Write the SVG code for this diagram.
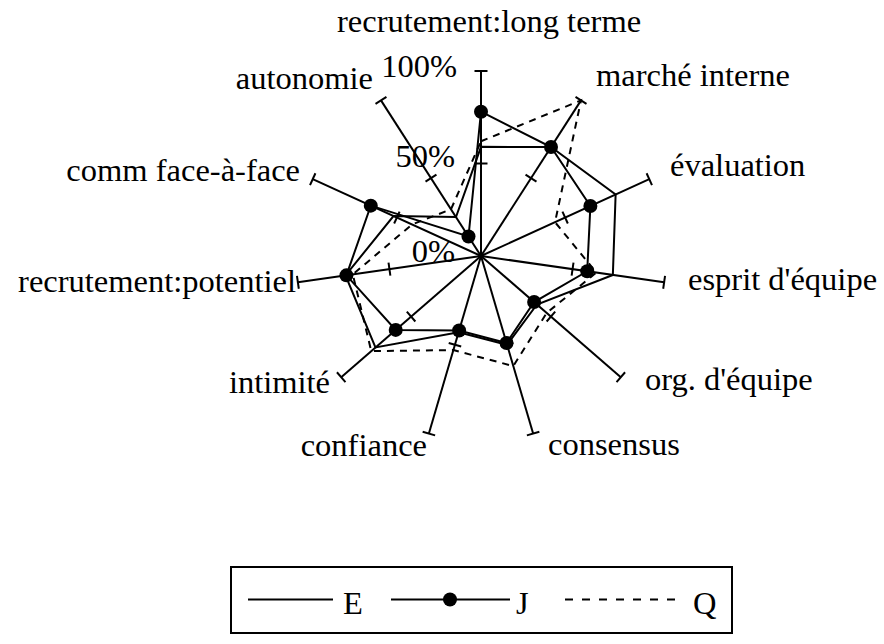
<svg xmlns="http://www.w3.org/2000/svg" width="884" height="644" viewBox="0 0 884 644">
<style>
  text { font-family: "Liberation Serif", "Times New Roman", serif; font-size: 32.5px; fill: #000; }
  .ax { stroke: #000; stroke-width: 2; fill: none; }
  .tk { stroke: #000; stroke-width: 2; fill: none; }
  .sE { stroke: #000; stroke-width: 2; fill: none; stroke-linejoin: miter; }
  .sJ { stroke: #000; stroke-width: 2; fill: none; }
  .sQ { stroke: #000; stroke-width: 2; fill: none; stroke-dasharray: 7 6; }
  .mk { fill: #000; stroke: none; }
  .end { text-anchor: end; }
</style>
<rect width="884" height="644" fill="#fff"/>

<g id="axis-recrutement-long-terme">
  <line class="ax" x1="481" y1="256" x2="481" y2="71"/>
  <line class="tk" x1="474.5" y1="71" x2="487.5" y2="71"/>
  <line class="tk" x1="474.5" y1="163.5" x2="487.5" y2="163.5"/>
  <text x="337" y="32">recrutement:long terme</text>
</g>
<g id="axis-marche-interne">
  <line class="ax" x1="481" y1="256" x2="581.02" y2="100.37"/>
  <line class="tk" x1="575.55" y1="96.86" x2="586.49" y2="103.88"/>
  <line class="tk" x1="525.54" y1="174.67" x2="536.48" y2="181.69"/>
  <text x="596" y="86">marché interne</text>
</g>
<g id="axis-evaluation">
  <line class="ax" x1="481" y1="256" x2="649.28" y2="179.15"/>
  <line class="tk" x1="646.58" y1="173.24" x2="651.98" y2="185.06"/>
  <line class="tk" x1="562.44" y1="211.66" x2="567.84" y2="223.48"/>
  <text x="670" y="176">évaluation</text>
</g>
<g id="axis-esprit-equipe">
  <line class="ax" x1="481" y1="256" x2="664.12" y2="282.33"/>
  <line class="tk" x1="665.05" y1="275.90" x2="663.20" y2="288.76"/>
  <line class="tk" x1="573.49" y1="262.73" x2="571.64" y2="275.59"/>
  <text x="688" y="290">esprit d'équipe</text>
</g>
<g id="axis-org-equipe">
  <line class="ax" x1="481" y1="256" x2="620.81" y2="377.15"/>
  <line class="tk" x1="625.07" y1="372.24" x2="616.55" y2="382.06"/>
  <line class="tk" x1="555.17" y1="311.66" x2="546.65" y2="321.48"/>
  <text x="645" y="390">org. d'équipe</text>
</g>
<g id="axis-consensus">
  <line class="ax" x1="481" y1="256" x2="533.12" y2="433.51"/>
  <line class="tk" x1="539.36" y1="431.68" x2="526.88" y2="435.34"/>
  <line class="tk" x1="513.30" y1="342.92" x2="500.82" y2="346.58"/>
  <text x="548" y="455">consensus</text>
</g>
<g id="axis-confiance">
  <line class="ax" x1="481" y1="256" x2="428.88" y2="433.51"/>
  <line class="tk" x1="435.12" y1="435.34" x2="422.64" y2="431.68"/>
  <line class="tk" x1="461.18" y1="346.58" x2="448.70" y2="342.92"/>
  <text class="end" x="427" y="456">confiance</text>
</g>
<g id="axis-intimite">
  <line class="ax" x1="481" y1="256" x2="341.19" y2="377.15"/>
  <line class="tk" x1="345.45" y1="382.06" x2="336.93" y2="372.24"/>
  <line class="tk" x1="415.35" y1="321.48" x2="406.83" y2="311.66"/>
  <text class="end" x="330" y="393">intimité</text>
</g>
<g id="axis-recrutement-potentiel">
  <line class="ax" x1="481" y1="256" x2="297.88" y2="282.33"/>
  <line class="tk" x1="298.81" y1="288.76" x2="296.96" y2="275.90"/>
  <line class="tk" x1="390.37" y1="275.59" x2="388.52" y2="262.73"/>
  <text class="end" x="296" y="292">recrutement:potentiel</text>
</g>
<g id="axis-comm-face-a-face">
  <line class="ax" x1="481" y1="256" x2="312.72" y2="179.15"/>
  <line class="tk" x1="310.02" y1="185.06" x2="315.42" y2="173.24"/>
  <line class="tk" x1="394.16" y1="223.48" x2="399.56" y2="211.66"/>
  <text class="end" x="300" y="181">comm face-à-face</text>
</g>
<g id="axis-autonomie">
  <line class="ax" x1="481" y1="256" x2="380.98" y2="100.37"/>
  <line class="tk" x1="375.51" y1="103.88" x2="386.45" y2="96.86"/>
  <line class="tk" x1="425.52" y1="181.69" x2="436.46" y2="174.67"/>
  <text class="end" x="373" y="89">autonomie</text>
</g>

<g id="scale-labels">
  <text class="end" x="457" y="77">100%</text>
  <text class="end" x="455" y="167">50%</text>
  <text class="end" x="455" y="262">0%</text>
</g>

<g id="connectors">
  <polygon id="series-E" class="sE" points="481,146.85 551.01,147.06 615.62,194.52 612.85,274.96 536.92,304.46 507.06,344.76 458.59,332.33 375.44,347.47 345.49,275.48 393.49,216.04 455.99,217.09"/>
  <polygon id="series-Q" class="sQ" points="481,141.3 581.02,100.37 555.04,222.19 596.37,272.59 546.71,312.94 513.31,366.06 453.38,350.08 371.25,351.10 352.82,274.43 412,224.49 450.99,209.31"/>
  <g id="series-J">
    <polygon class="sJ" points="481,111.7 551.01,147.06 590.38,206.05 587.21,271.27 534.13,302.04 506.54,342.98 459.11,330.55 395.72,329.90 346.41,275.35 370.78,205.66 468.5,236.55"/>
    <circle class="mk" cx="481" cy="111.7" r="7"/>
    <circle class="mk" cx="551.01" cy="147.06" r="7"/>
    <circle class="mk" cx="590.38" cy="206.05" r="7"/>
    <circle class="mk" cx="587.21" cy="271.27" r="7"/>
    <circle class="mk" cx="534.13" cy="302.04" r="7"/>
    <circle class="mk" cx="506.54" cy="342.98" r="7"/>
    <circle class="mk" cx="459.11" cy="330.55" r="7"/>
    <circle class="mk" cx="395.72" cy="329.9" r="7"/>
    <circle class="mk" cx="346.41" cy="275.35" r="7"/>
    <circle class="mk" cx="370.78" cy="205.66" r="7"/>
    <circle class="mk" cx="468.5" cy="236.55" r="7"/>
  </g>
</g>

<g id="legend">
  <rect x="231" y="567" width="501" height="66" fill="none" stroke="#000" stroke-width="2"/>
  <line x1="248" y1="599.5" x2="333" y2="599.5" stroke="#000" stroke-width="2"/>
  <text x="343" y="614">E</text>
  <line x1="391" y1="599.5" x2="510" y2="599.5" stroke="#000" stroke-width="2"/>
  <circle class="mk" cx="450" cy="599.5" r="7"/>
  <text x="516" y="614">J</text>
  <line x1="565" y1="599.5" x2="675" y2="599.5" stroke="#000" stroke-width="2" stroke-dasharray="8 9"/>
  <text x="693" y="614">Q</text>
</g>
</svg>
